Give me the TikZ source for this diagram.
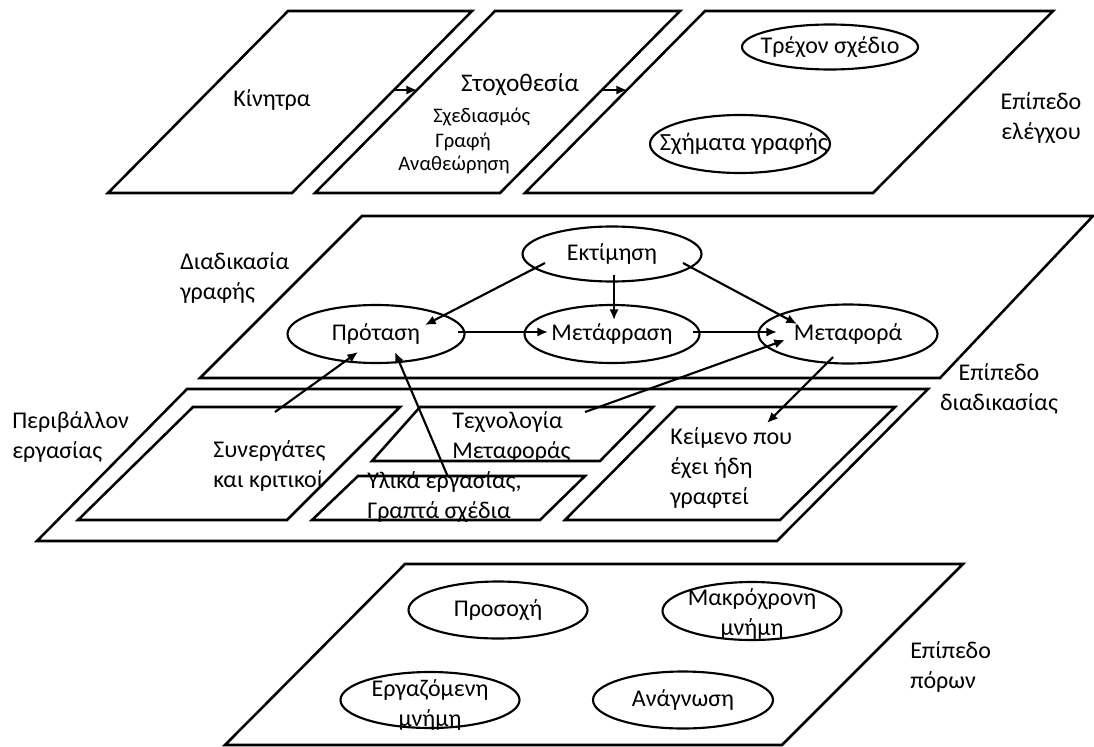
\documentclass[tikz,border=0pt]{standalone}
\usepackage{fontspec}
\setmainfont{Carlito}
\usetikzlibrary{shapes.geometric,arrows.meta,calc}
\begin{document}
\begin{tikzpicture}[x=0.75pt,y=-0.75pt,
  plane/.style={draw, line width=1.9pt, line join=miter},
  ell/.style 2 args={draw, ellipse, line width=1.6pt, inner sep=0pt, minimum width=#1, minimum height=#2},
  lbl/.style={font=\fontsize{18}{22.5}\selectfont, inner sep=0pt},
  big/.style={font=\fontsize{19}{23}\selectfont, inner sep=0pt},
  sml/.style={font=\fontsize{15.5}{19}\selectfont, inner sep=0pt},
  arr/.style={-{Latex[length=8pt,width=7pt]}, line width=1.6pt}]
\useasboundingbox (0,0) rectangle (1094,746);

% ---------- control level ----------
\draw[plane] (288,11) -- (472,11) -- (292,193) -- (108,193) -- cycle;
\draw[plane] (495,11) -- (680,11) -- (500,193) -- (315,193) -- cycle;
\draw[plane] (705,11) -- (1053,11) -- (873,193) -- (525,193) -- cycle;
\node[lbl] (kin) at (272,100) {Κίνητρα};
\node[big] (stox) at (520,85) {Στοχοθεσία};
\node[sml, anchor=west] (sxed) at (433,117) {Σχεδιασμός};
\node[sml, anchor=west] (graf) at (435,142) {Γραφή};
\node[sml, anchor=west] (anath) at (398,165) {Αναθεώρηση};
\node[ell={132pt}{33.75pt}, label={[lbl]center:Τρέχον σχέδιο}] (tr) at (830,47) {};
\node[ell={135pt}{43.5pt}, label={[lbl,xshift=3pt,font=\fontsize{18.5}{22.5}\selectfont]center:Σχήματα γραφής}] (sg) at (740,144) {};
\node[lbl, align=center] (epel) at (1041,118) {Επίπεδο\\ελέγχου};
\coordinate (a1s) at (394,90);
\coordinate (a1e) at (417,90);
\coordinate (a2s) at (602,90);
\coordinate (a2e) at (627,90);
\draw[arr] (a1s) -- (a1e);
\draw[arr] (a2s) -- (a2e);

% ---------- process level ----------
\draw[plane] (362,216) -- (1093,216) -- (940,378) -- (200,378) -- cycle;
\node[lbl, align=left, anchor=west] (diag) at (180,278) {Διαδικασία\\γραφής};
\node[ell={134.25pt}{41.25pt}, label={[lbl]center:Εκτίμηση}] (ekt) at (612,254) {};
\node[ell={132.75pt}{43.5pt}, label={[lbl]center:Πρόταση}] (prot) at (376,334) {};
\node[ell={131.25pt}{43.5pt}, label={[lbl]center:Μετάφραση}] (mtf) at (612,334) {};
\node[ell={134.25pt}{44.25pt}, label={[lbl]center:Μεταφορά}] (mtp) at (848,334) {};
\node[lbl, align=center] (epdi) at (999,389) {Επίπεδο\\διαδικασίας};

% ---------- task environment ----------
\draw[plane] (187,389) -- (928,389) -- (777,541) -- (37,541) -- cycle;
\draw[plane] (193,407) -- (400,407) -- (287,520) -- (78,520) -- cycle;
\draw[plane] (420,407) -- (653,407) -- (600,461) -- (372,461) -- cycle;
\draw[plane] (358,476) -- (585,476) -- (540,520) -- (312,520) -- cycle;
\draw[plane] (677,407) -- (895,407) -- (780,520) -- (565,520) -- cycle;
\node[lbl, align=left, anchor=west] (peri) at (12,437) {Περιβάλλον\\εργασίας};
\node[lbl, align=left, anchor=west] (syn) at (213,466) {Συνεργάτες\\και κριτικοί};
\node[lbl, align=left, anchor=west] (tech) at (452,437) {Τεχνολογία\\Μεταφοράς};
\node[lbl, align=left, anchor=west] (yl) at (367,497) {Υλικά εργασίας,\\Γραπτά σχέδια};
\node[lbl, align=left, anchor=west] (keim) at (670,468) {Κείμενο που\\έχει ήδη\\γραφτεί};

\coordinate (synS) at (275,412);
\coordinate (ylS) at (448,477);
\coordinate (techS) at (585,412);
\coordinate (keimE) at (767,423);

\draw[arr] ($(ekt)+(-67,9)$) -- ($(prot)+(49,-9)$);
\draw[arr] ($(ekt)+(2,21)$) -- ($(mtf)+(2,-14)$);
\draw[arr] ($(ekt)+(71,9)$) -- ($(mtp)+(-51,-10)$);
\draw[arr] ($(prot)+(82,-2)$) -- ($(mtf)+(-64,-2)$);
\draw[arr] ($(mtf)+(81,-2)$) -- ($(mtp)+(-71,-2)$);
\draw[arr] (techS) -- ($(mtp)+(-63,6)$);
\draw[arr] ($(mtp)+(-15,23)$) -- (keimE);
\draw[arr] (synS) -- ($(prot)+(-18,18)$);
\draw[arr] (ylS) -- ($(prot)+(19,18)$);

% ---------- resource level ----------
\draw[plane] (405,564) -- (963,564) -- (782,745) -- (225,745) -- cycle;
\node[ell={134.25pt}{42.75pt}, label={[lbl]center:Προσοχή}] (pros) at (498,610) {};
\node[ell={134.25pt}{43.5pt}, label={[lbl,align=center,yshift=-2pt]center:{Μακρόχρονη\\μνήμη}}] (makr) at (752,611) {};
\node[ell={134.25pt}{42pt}, label={[lbl,align=center,yshift=-4pt]center:{Εργαζόμενη\\μνήμη}}] (erg) at (430,700) {};
\node[ell={135pt}{42.75pt}, label={[lbl]center:Ανάγνωση}] (anag) at (683,700) {};
\node[lbl, align=left, anchor=west] (eppo) at (910,667) {Επίπεδο\\πόρων};
\end{tikzpicture}
\end{document}
